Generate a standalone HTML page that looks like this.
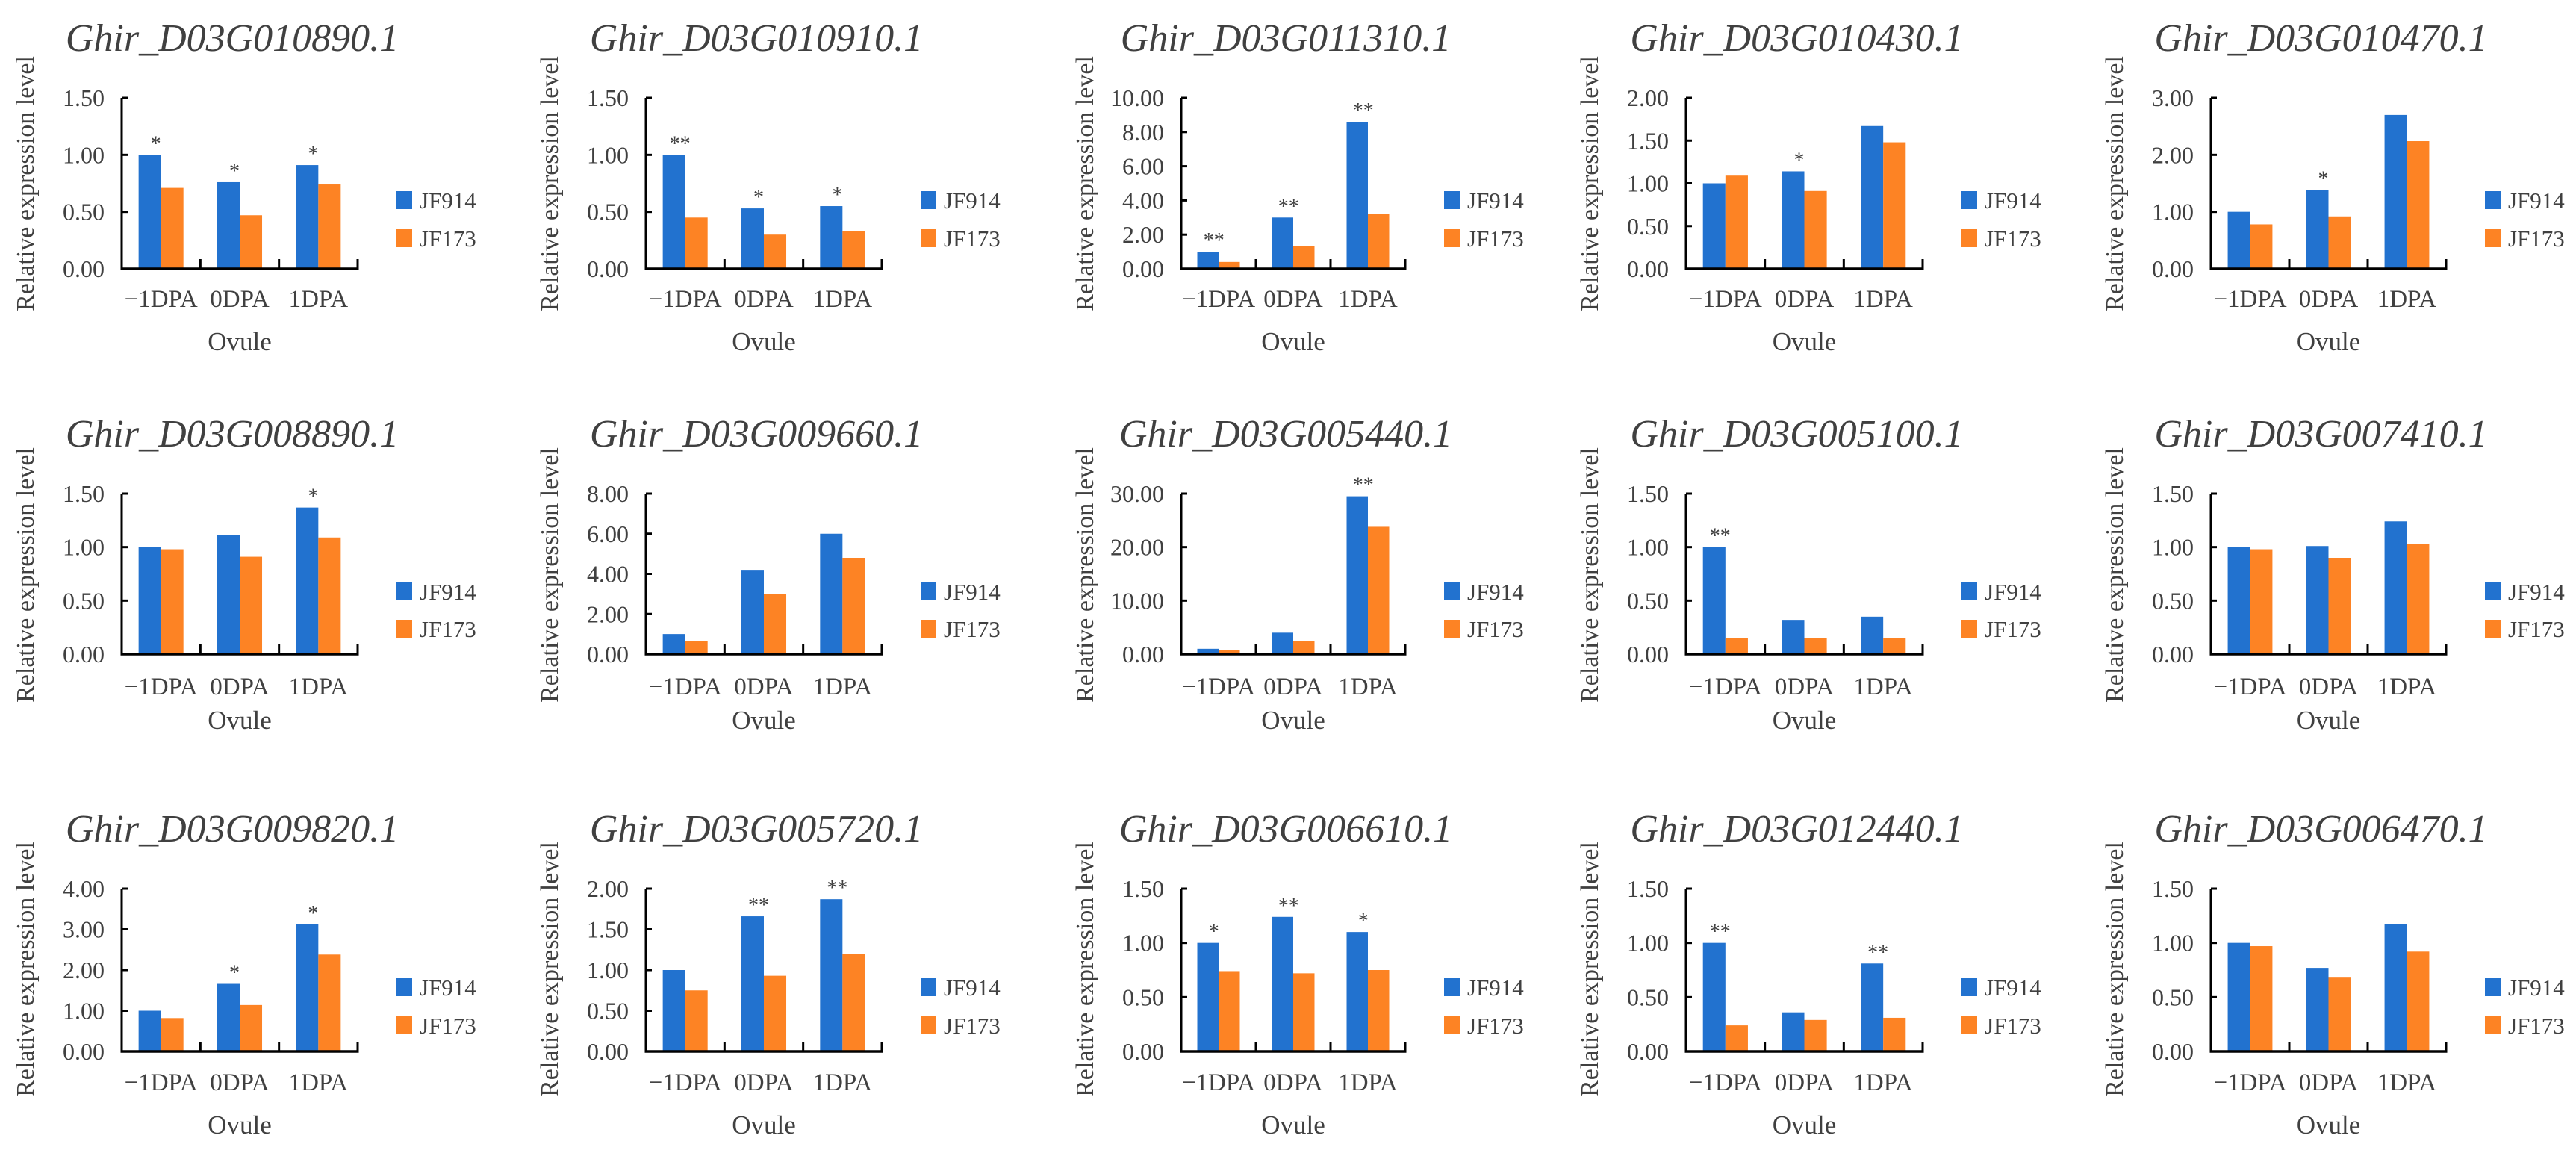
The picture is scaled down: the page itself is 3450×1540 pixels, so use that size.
<!DOCTYPE html>
<html><head><meta charset="utf-8"><style>
html,body{margin:0;padding:0;background:#fff;}
svg{display:block;}
text{font-family:"Liberation Serif",serif;fill:#404040;}
</style></head><body>
<svg id="fig" width="3450" height="1540" viewBox="0 0 3450 1540" xmlns="http://www.w3.org/2000/svg"></svg>
<script>
const genes = ["Ghir_D03G010890.1","Ghir_D03G010910.1","Ghir_D03G011310.1","Ghir_D03G010430.1","Ghir_D03G010470.1",
"Ghir_D03G008890.1","Ghir_D03G009660.1","Ghir_D03G005440.1","Ghir_D03G005100.1","Ghir_D03G007410.1",
"Ghir_D03G009820.1","Ghir_D03G005720.1","Ghir_D03G006610.1","Ghir_D03G012440.1","Ghir_D03G006470.1"];
const categories = ["\u22121DPA","0DPA","1DPA"];
const seriesNames = ["JF914","JF173"];
const jf914 = [[1.00,0.76,0.91],[1.00,0.53,0.55],[1.0,3.0,8.6],[1.00,1.14,1.67],[1.00,1.38,2.70],
[1.00,1.11,1.37],[1.0,4.2,6.0],[1.0,4.0,29.5],[1.00,0.32,0.35],[1.00,1.01,1.24],
[1.00,1.66,3.12],[1.00,1.66,1.87],[1.00,1.24,1.10],[1.00,0.36,0.81],[1.00,0.77,1.17]];
const jf173 = [[0.71,0.47,0.74],[0.45,0.30,0.33],[0.4,1.35,3.2],[1.09,0.91,1.48],[0.78,0.92,2.24],
[0.98,0.91,1.09],[0.65,3.0,4.8],[0.7,2.4,23.8],[0.15,0.15,0.15],[0.98,0.90,1.03],
[0.82,1.14,2.38],[0.75,0.93,1.20],[0.74,0.72,0.75],[0.24,0.29,0.31],[0.97,0.68,0.92]];
const stars = [["*","*","*"],["**","*","*"],["**","**","**"],["","*",""],["","*",""],
["","","*"],["","",""],["","","**"],["**","",""],["","",""],
["","*","*"],["","**","**"],["*","**","*"],["**","","**"],["","",""]];
const yMax = [1.5,1.5,10,2,3, 1.5,8,30,1.5,1.5, 4,2,1.5,1.5,1.5];
const yStep = [0.5,0.5,2,0.5,1, 0.5,2,10,0.5,0.5, 1,0.5,0.5,0.5,0.5];

const svg = document.getElementById('fig');
const NS = "http://www.w3.org/2000/svg";
function mk(tag, attrs, parent){const e=document.createElementNS(NS,tag);for(const k in attrs)e.setAttribute(k,attrs[k]);(parent||svg).appendChild(e);return e;}
const colX=[163,865,1582,2258,2961], colW=[316,316,300,317,315];
const rows=[{top:131,bot:360,ovule:469,cat:411,leg:[268,319],ylab:246},
{top:661,bot:876,ovule:976,cat:930,leg:[792,842],ylab:770},
{top:1190,bot:1408,ovule:1518,cat:1460,leg:[1322,1373],ylab:1298}];
const colors=["#2272cf","#fd8324"];

genes.forEach((g,i)=>{
  const r=rows[Math.floor(i/5)], c=i%5;
  const x0=colX[c], w=colW[c], top=r.top, bot=r.bot;
  const grp=mk('g',{});
  
  
  const yS=v=>bot-(v/yMax[i])*(bot-top);
  const cw=w/3, bw=cw*0.285;
  const t=mk('text',{x:x0+w/2-10,y:top-63,'font-size':52,'font-style':'italic','text-anchor':'middle'},grp);
  t.textContent=g;
  
  
  const yl=mk('text',{x:0,y:0,'font-size':34,'text-anchor':'middle',transform:`translate(${x0-118},${r.ylab}) rotate(-90)`},grp);
  yl.textContent="Relative expression level";
  
  
  for(let v=0; v<=yMax[i]+1e-9; v+=yStep[i]){
    const y=yS(v);
    mk('line',{x1:x0,x2:x0+8,y1:y,y2:y,stroke:'#000','stroke-width':3},grp);
    const tl=mk('text',{x:x0-23,y:y+11,'font-size':32,'text-anchor':'end'},grp);
    tl.textContent=v.toFixed(2);
    
    
  }
  categories.forEach((cat,k)=>{
    const cx=x0+cw*(k+0.5);
    const b1=mk('rect',{x:cx-bw,y:yS(jf914[i][k]),width:bw,height:bot-yS(jf914[i][k]),fill:colors[0]},grp);
    
    
    const b2=mk('rect',{x:cx,y:yS(jf173[i][k]),width:bw,height:bot-yS(jf173[i][k]),fill:colors[1]},grp);
    
    
    if(stars[i][k]){
      const s=mk('text',{x:cx-bw/2+8,y:yS(jf914[i][k])-6,'font-size':28,'text-anchor':'middle',fill:'#000'},grp);
      s.textContent=stars[i][k];
      
      
    }
    const cl=mk('text',{x:cx,y:r.cat,'font-size':33,'text-anchor':'middle'},grp);
    cl.textContent=cat;
    
    
    mk('line',{x1:x0+cw*(k+1),x2:x0+cw*(k+1),y1:bot-13,y2:bot,stroke:'#000','stroke-width':3},grp);
  });
  mk('line',{x1:x0,x2:x0,y1:top,y2:bot+1.5,stroke:'#000','stroke-width':3},grp);
  mk('line',{x1:x0-1.5,x2:x0+w+1.5,y1:bot,y2:bot,stroke:'#000','stroke-width':3.5},grp);
  const ov=mk('text',{x:x0+w/2,y:r.ovule,'font-size':35,'text-anchor':'middle'},grp);
  ov.textContent="Ovule";
  
  
  seriesNames.forEach((n,k)=>{
    const lx=x0+w+52, ly=r.leg[k];
    const sq=mk('rect',{x:lx,y:ly-12,width:21,height:24,fill:colors[k]},grp);
    
    
    const lt=mk('text',{x:lx+31,y:ly+11,'font-size':31},grp);
    lt.textContent=n;
    
    
  });
});
</script>
</body></html>
